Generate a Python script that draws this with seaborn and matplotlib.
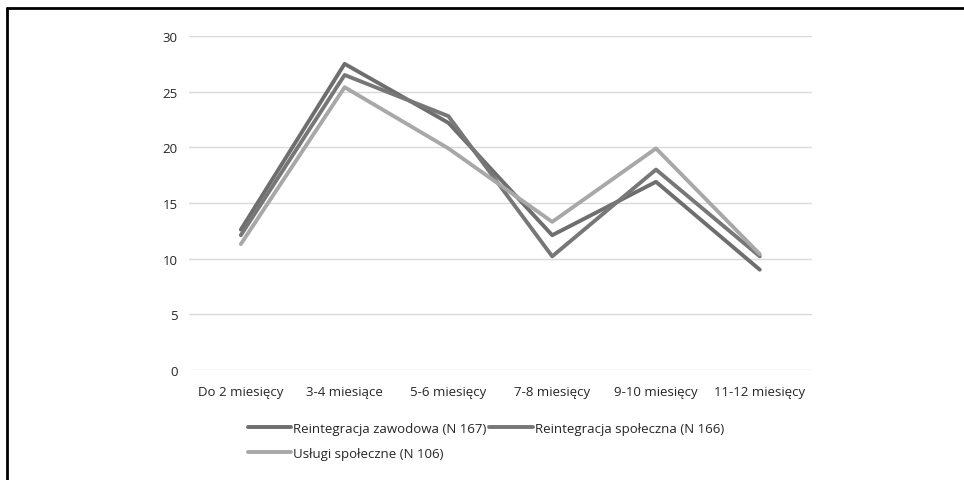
import pandas as pd
import seaborn as sns
import matplotlib.pyplot as plt
from matplotlib.lines import Line2D

kategorie = ["Do 2 miesięcy", "3-4 miesiące", "5-6 miesięcy", "7-8 miesięcy", "9-10 miesięcy", "11-12 miesięcy"]
reintegracja_zawodowa = [12.6, 27.5, 22.2, 12.1, 16.9, 9.0]
reintegracja_spoleczna = [12.1, 26.5, 22.8, 10.2, 18.0, 10.2]
uslugi_spoleczne = [11.3, 25.4, 19.9, 13.3, 19.9, 10.4]
serie = ["Reintegracja zawodowa (N 167)", "Reintegracja społeczna (N 166)", "Usługi społeczne (N 106)"]
kolory = ["#6e6e6e", "#777777", "#a8a8a8"]

df = pd.DataFrame({
    "kategoria": kategorie * 3,
    "wartosc": reintegracja_zawodowa + reintegracja_spoleczna + uslugi_spoleczne,
    "seria": [serie[0]] * 6 + [serie[1]] * 6 + [serie[2]] * 6,
})

sns.set_style("white")
plt.rcParams['font.family'] = ['Open Sans', 'DejaVu Sans']

fig = plt.figure(figsize=(9.64, 4.81), dpi=100)
ax = fig.add_axes([0.196, 0.229, 0.646, 0.694])

sns.lineplot(data=df, x="kategoria", y="wartosc", hue="seria", hue_order=serie,
             palette=kolory, linewidth=2.8, sort=False, ax=ax)

ax.set_xlim(-0.5, 5.5)
ax.set_ylim(0, 30)
ax.set_yticks(range(0, 31, 5))
ax.yaxis.grid(True, color="#d9d9d9", linewidth=1)
ax.set_xlabel("")
ax.set_ylabel("")
ax.tick_params(axis="both", length=0, labelsize=9.5, labelcolor="#262626")
ax.tick_params(axis="y", pad=8)
ax.tick_params(axis="x", pad=11)
sns.despine(ax=ax, left=True, bottom=True)

h, l = ax.get_legend_handles_labels()
ax.legend([h[0], h[2], h[1]], [l[0], l[2], l[1]], ncol=2, frameon=False,
          loc="upper left", bbox_to_anchor=(0.075, -0.12), fontsize=9.5,
          handlelength=3.3, handletextpad=0.15, columnspacing=0.2,
          labelspacing=0.9, labelcolor="#262626")

# ramka jak w oryginale (lewa i górna krawędź)
x0 = 7 / 964
y0 = 1 - 9 / 481
fig.add_artist(Line2D([x0, x0], [0, y0], color="black", linewidth=2, transform=fig.transFigure))
fig.add_artist(Line2D([x0, 1], [y0, y0], color="black", linewidth=2, transform=fig.transFigure))

plt.savefig("out.png", dpi=100)
